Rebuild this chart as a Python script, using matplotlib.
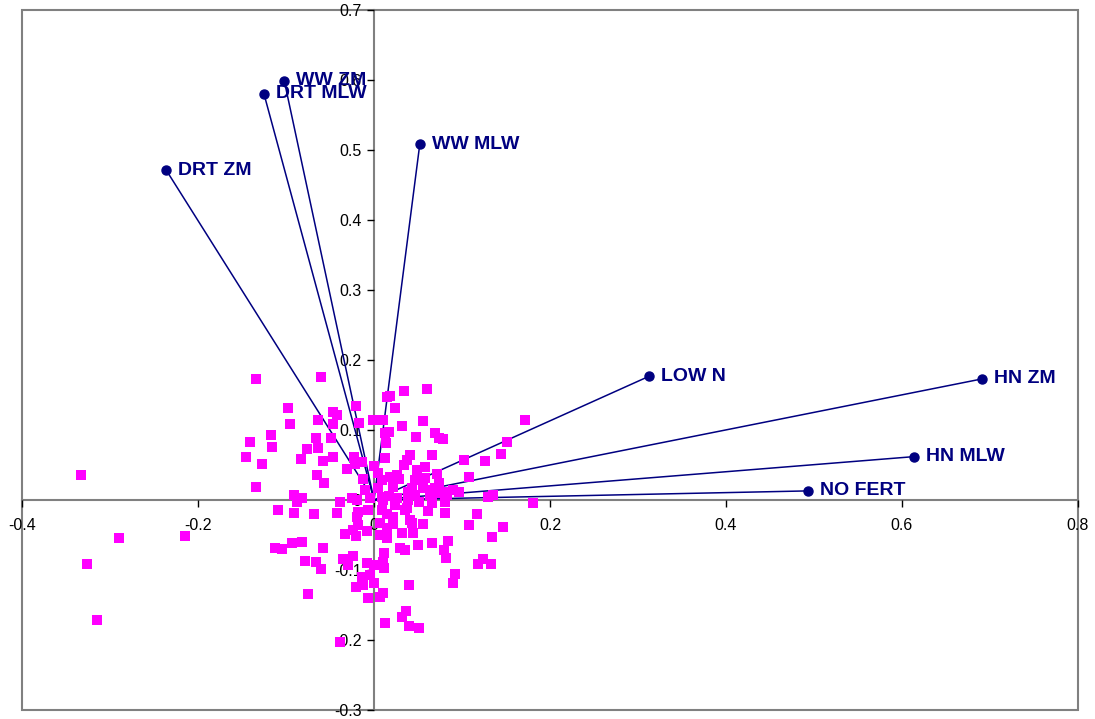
#!/usr/bin/env python3

import numpy as np
import matplotlib
matplotlib.use("Agg")
import matplotlib.pyplot as plt
from matplotlib.patches import Rectangle

plt.rcParams['font.family'] = ['Liberation Sans', 'DejaVu Sans']

# biplot vectors (environments)
vec_names = ["WW ZM", "DRT MLW", "DRT ZM", "WW MLW", "LOW N", "HN ZM", "HN MLW", "NO FERT"]
vec_x = [-0.102, -0.125, -0.236, 0.052, 0.313, 0.691, 0.614, 0.493]
vec_y = [0.599, 0.580, 0.471, 0.508, 0.177, 0.173, 0.062, 0.013]

# genotype scores
geno_x = [
    -0.134, -0.060, -0.098, -0.095, -0.117, -0.141, -0.116, -0.145, -0.127, -0.134,
    -0.064, -0.047, -0.042, -0.047, -0.066, -0.049, -0.076, -0.064, -0.083, -0.058,
    -0.047, -0.020, -0.017, -0.001, 0.010, 0.015, 0.013, 0.014, 0.013, -0.023,
    -0.031, -0.022, -0.014, -0.065, -0.057, -0.013, 0.000, 0.005, 0.009, -0.091,
    -0.082, -0.088, -0.039, -0.025, -0.010, -0.005, 0.009, 0.018, 0.034, 0.060,
    0.024, 0.056, 0.032, 0.017, 0.048, 0.069, 0.074, 0.078, 0.172, 0.151,
    0.126, 0.144, 0.102, 0.108, 0.041, 0.038, 0.066, 0.034, 0.049, 0.058,
    0.072, 0.026, 0.018, 0.047, 0.058, 0.028, 0.074, 0.022, 0.043, 0.056,
    0.069, 0.083, 0.090, 0.097, 0.017, 0.047, 0.064, 0.074, 0.083, 0.130,
    0.135, 0.181, 0.010, 0.026, 0.039, 0.051, 0.066, 0.066, 0.005, 0.039,
    0.081, -0.019, -0.109, -0.091, -0.068, -0.042, -0.018, -0.019, -0.007, 0.009,
    0.015, -0.033, -0.024, -0.020, -0.008, 0.007, 0.015, -0.113, -0.105, -0.093,
    -0.082, -0.058, -0.078, -0.066, -0.060, -0.035, -0.024, -0.030, -0.008, 0.000,
    0.011, 0.010, 0.011, -0.014, -0.005, -0.013, -0.020, 0.000, 0.010, 0.007,
    -0.007, -0.075, 0.013, -0.039, 0.024, 0.038, 0.061, 0.081, 0.117, 0.108,
    0.147, 0.134, 0.056, 0.043, 0.022, 0.015, 0.032, 0.044, 0.050, 0.066,
    0.084, 0.030, 0.035, 0.080, 0.082, 0.118, 0.124, 0.133, 0.092, 0.090,
    0.040, 0.036, 0.032, 0.040, 0.051, 0.022, 0.035, 0.041, -0.018, 0.007,
    -0.333, -0.290, -0.215, -0.326, -0.315,
]
geno_y = [
    0.173, 0.176, 0.131, 0.109, 0.093, 0.083, 0.076, 0.061, 0.051, 0.019,
    0.114, 0.126, 0.121, 0.109, 0.089, 0.089, 0.073, 0.074, 0.059, 0.056,
    0.061, 0.134, 0.110, 0.114, 0.114, 0.147, 0.096, 0.081, 0.060, 0.061,
    0.044, 0.051, 0.054, 0.036, 0.024, 0.030, 0.049, 0.039, 0.029, 0.007,
    0.003, -0.003, -0.003, 0.003, 0.014, 0.003, 0.004, 0.149, 0.156, 0.159,
    0.131, 0.113, 0.106, 0.097, 0.090, 0.096, 0.089, 0.087, 0.114, 0.083,
    0.056, 0.066, 0.057, 0.033, 0.064, 0.057, 0.064, 0.050, 0.043, 0.047,
    0.037, 0.036, 0.033, 0.029, 0.031, 0.030, 0.024, 0.019, 0.017, 0.017,
    0.017, 0.011, 0.014, 0.011, 0.006, 0.007, 0.007, 0.010, 0.007, 0.004,
    0.007, -0.004, 0.000, 0.003, 0.000, -0.003, -0.004, 0.014, 0.017, 0.011,
    -0.003, 0.000, -0.014, -0.019, -0.020, -0.019, -0.017, -0.024, -0.014, -0.014,
    -0.020, -0.049, -0.043, -0.051, -0.044, -0.050, -0.054, -0.069, -0.070, -0.061,
    -0.060, -0.069, -0.087, -0.089, -0.099, -0.084, -0.080, -0.093, -0.090, -0.093,
    -0.076, -0.089, -0.097, -0.110, -0.107, -0.121, -0.124, -0.119, -0.133, -0.139,
    -0.140, -0.134, -0.176, -0.203, -0.007, -0.011, -0.016, -0.019, -0.020, -0.036,
    -0.039, -0.053, -0.034, -0.033, -0.034, -0.040, -0.047, -0.047, -0.064, -0.061,
    -0.059, -0.069, -0.071, -0.071, -0.083, -0.091, -0.084, -0.091, -0.106, -0.119,
    -0.121, -0.159, -0.167, -0.180, -0.183, -0.024, -0.014, -0.029, -0.036, -0.033,
    0.036, -0.054, -0.051, -0.091, -0.171,
]

x_ticks = [-0.4, -0.2, 0, 0.2, 0.4, 0.6, 0.8]
y_ticks = [-0.3, -0.2, -0.1, 0, 0.1, 0.2, 0.3, 0.4, 0.5, 0.6, 0.7]

navy = "#000080"
gray = "#808080"

fig = plt.figure(figsize=(10.95, 7.19), dpi=100)
ax = fig.add_axes([22 / 1095, 9 / 719, 1056 / 1095, 700 / 719])

for x, y in zip(vec_x, vec_y):
    ax.plot([0, x], [0, y], color=navy, lw=1.1, zorder=2)

ax.scatter(geno_x, geno_y, marker="s", s=55, color="#FF00FF", linewidths=0, zorder=3)

ax.plot(vec_x, vec_y, "o", color=navy, ms=6.5, zorder=4, linestyle="none")
for name, x, y in zip(vec_names, vec_x, vec_y):
    ax.annotate(name, (x, y), xytext=(8.5, 0), textcoords="offset points",
                va="center", ha="left", fontsize=14, fontweight="bold",
                color=navy, zorder=5)

ax.set_xlim(-0.4, 0.8)
ax.set_ylim(-0.3, 0.7)

ax.spines["left"].set_position(("data", 0))
ax.spines["bottom"].set_position(("data", 0))
for s in ["top", "right"]:
    ax.spines[s].set_visible(False)
for s in ["left", "bottom"]:
    ax.spines[s].set_color(gray)
    ax.spines[s].set_linewidth(1.5)
    ax.spines[s].set_zorder(1)
ax.add_patch(Rectangle((0, 0), 1, 1, transform=ax.transAxes, fill=False,
                       edgecolor=gray, lw=1.5, zorder=1, clip_on=False))

ax.set_xticks(x_ticks)
ax.set_yticks(y_ticks)
ax.set_xticklabels(["-0.4", "-0.2", "0", "0.2", "0.4", "0.6", "0.8"])
ax.set_yticklabels(["-0.3", "-0.2", "-0.1", "0", "0.1", "0.2", "0.3", "0.4", "0.5", "0.6", "0.7"])
ax.tick_params(direction="out", length=5, width=1, color="black", labelsize=11.5)
ax.tick_params(axis="x", pad=8)
ax.tick_params(axis="y", pad=4)
for lab in ax.get_xticklabels() + ax.get_yticklabels():
    lab.set_zorder(3.5)

fig.savefig("out.png", dpi=100)
